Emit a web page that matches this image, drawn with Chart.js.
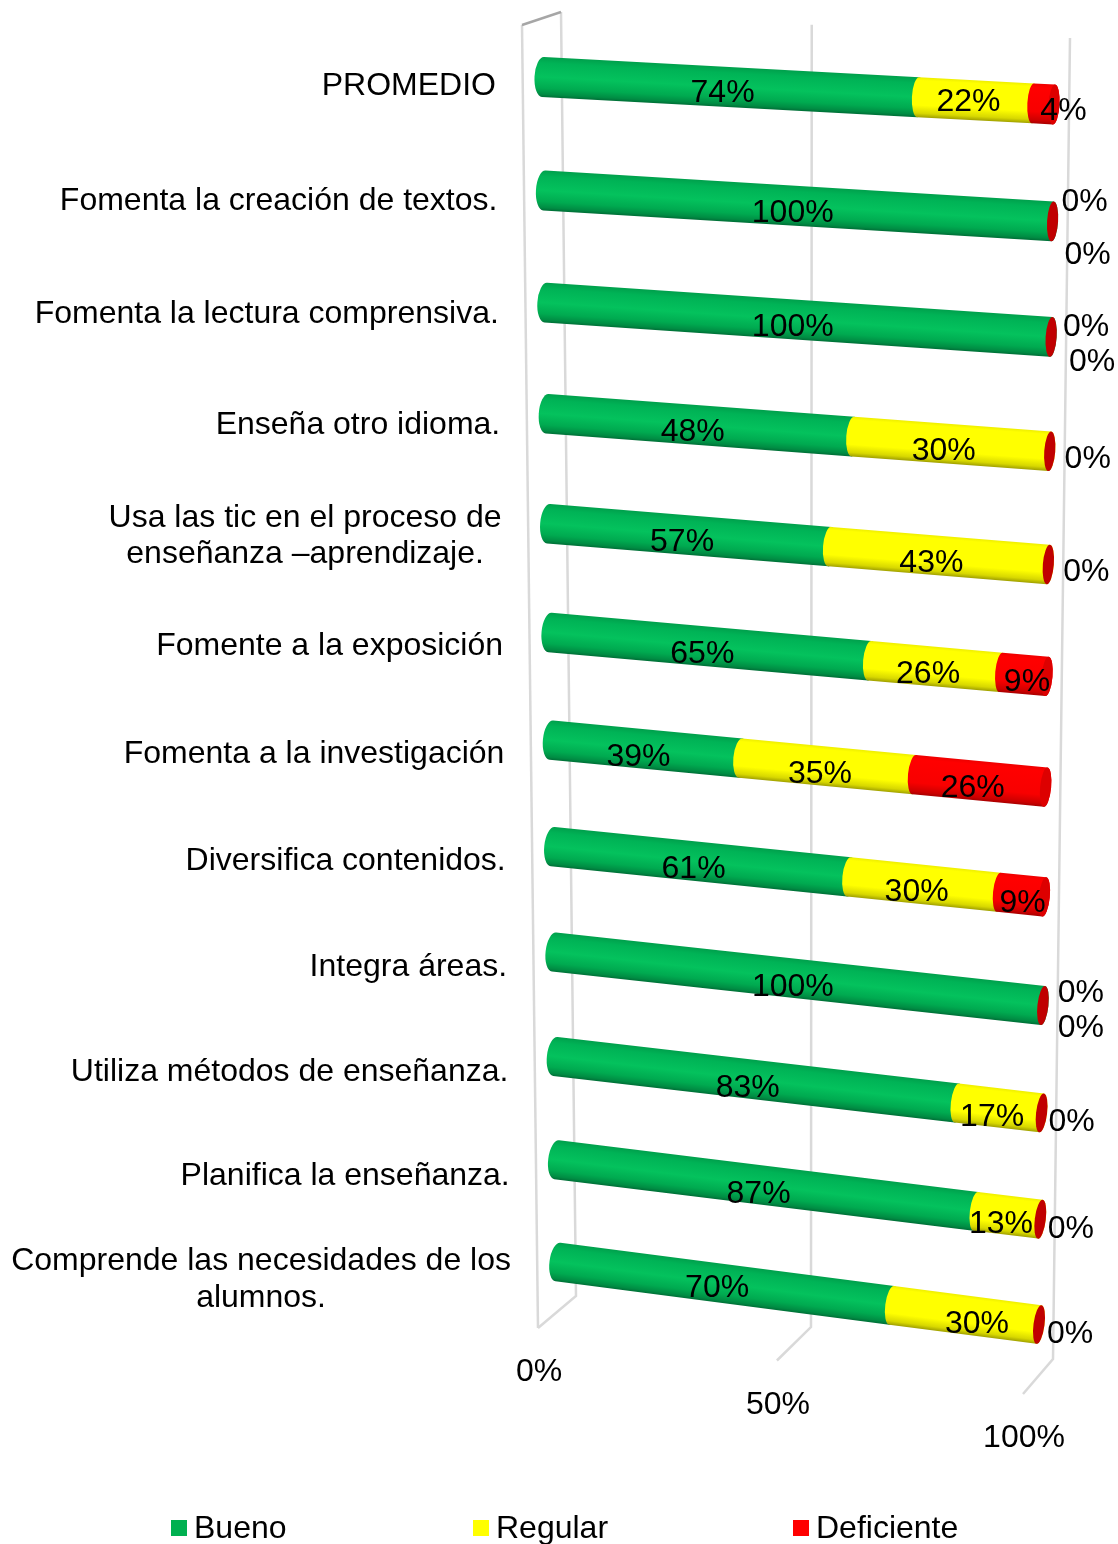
<!DOCTYPE html>
<html><head><meta charset="utf-8">
<style>html,body{margin:0;padding:0;background:#fff}canvas{display:block}</style>
<script src="https://cdn.jsdelivr.net/npm/chart.js@4"></script>
</head><body><canvas id="c" width="1118" height="1544"></canvas>
<script>
const categories=["PROMEDIO","Fomenta la creación de textos.","Fomenta la lectura comprensiva.","Enseña otro idioma.",["Usa las tic en el proceso de","enseñanza –aprendizaje."],"Fomente a la exposición","Fomenta a la investigación","Diversifica contenidos.","Integra áreas.","Utiliza métodos de enseñanza.","Planifica la enseñanza.",["Comprende las necesidades de los","alumnos."]];
const bueno=[74,100,100,48,57,65,39,61,100,83,87,70];
const regular=[22,0,0,30,43,26,35,30,0,17,13,30];
const deficiente=[4,0,0,0,0,9,26,9,0,0,0,0];
const seriesNames=["Bueno","Regular","Deficiente"];
const seriesColors=["#00b050","#ffff00","#ff0000"];
const axisTicks=[0,50,100];

// 100% stacking: the drawn length is the share of the row total
const rowTotals=bueno.map((v,i)=>v+regular[i]+deficiente[i]);
const share=a=>a.map((v,i)=>v/rowTotals[i]*100);

// ---- perspective of the 3-D view (style/geometry, not data) ----
const F={tl:[543,77],tr:[1054,104.5],bl:[558,1262],br:[1039,1324.5],kv:.0589,ku:.03,
  rTop:20,rBot:19.5,capL:8.5,capR:5.5,
  backTop:[[561,12],[1070,38]],backBot:[[576,1296],[1053,1359]],front:[[538,1328],[1023,1394]]};
const lerp=(a,b,t)=>a+(b-a)*t, lerp2=(p,q,t)=>[lerp(p[0],q[0],t),lerp(p[1],q[1],t)];
const tv=v=>v*(1+F.kv)/(1+F.kv*v), tu=u=>u/(1+F.ku*(1-u));
function P(u,v){const t=tv(v);return lerp2(lerp2(F.tl,F.bl,t),lerp2(F.tr,F.br,t),tu(u));}
const GRAD=[
 [[0,'#00a04c'],[.15,'#00b356'],[.5,'#04c25d'],[.78,'#00aa50'],[.93,'#008c43'],[1,'#006f37']],
 [[0,'#eeee00'],[.08,'#ffff00'],[.7,'#ffff00'],[.9,'#d8d800'],[1,'#a0a000']],
 [[0,'#ee0000'],[.1,'#ff0000'],[.7,'#f80000'],[.92,'#cc0000'],[1,'#a80000']]];
const CAP_FULL='#dd0000', CAP_EMPTY='#c00000';
function cyl(ctx,u0,u1,v,grad,capColor){
  const a=P(u0,v),b=P(u1,v),o=P(0,v),e=P(1,v),th=Math.atan2(e[1]-o[1],e[0]-o[0]);
  const L=Math.hypot(b[0]-a[0],b[1]-a[1]),r=lerp(F.rTop,F.rBot,tv(v));
  const a0=lerp(F.capL,F.capR,tu(u0)),a1=lerp(F.capL,F.capR,tu(u1));
  ctx.save();ctx.translate(a[0],a[1]);ctx.rotate(th);
  if(L>0.01){
    const g=ctx.createLinearGradient(0,-r,0,r);grad.forEach(s=>g.addColorStop(s[0],s[1]));
    ctx.fillStyle=g;ctx.beginPath();
    ctx.ellipse(0,0,a0,r,0,-Math.PI/2,Math.PI/2,true);
    ctx.lineTo(L,r);
    ctx.ellipse(L,0,a1,r,0,Math.PI/2,-Math.PI/2,true);
    ctx.closePath();ctx.fill();
  }
  if(capColor){ctx.fillStyle=capColor;ctx.beginPath();ctx.ellipse(L,0,a1,r,0,0,Math.PI*2);ctx.fill();}
  ctx.restore();
}
// label placement relative to the centre of the segment; key = series:row
const NUDGE_DEFAULT=[[-6,5],[-7,5],[-7,5]];
const labelNudge={'0:0':[-6,4],'1:0':[-7,-1],'2:0':[20,5],
 '0:1':[-2,5],'1:1':[32,-22],'2:1':[35,31],
 '0:2':[-2,5],'1:2':[35,-12],'2:2':[41,23],
 '2:3':[38,5],'2:4':[38,5],
 '2:5':[3,5],'0:6':[-7,6],
 '2:7':[1,6],
 '0:8':[-2,6],'1:8':[38,-15],'2:8':[38,20],
 '0:9':[-6,6],'1:9':[-7,7],'2:9':[30,7],
 '0:10':[-5,6],'1:10':[-7,6],'2:10':[30.5,7],
 '0:11':[-6,2],'1:11':[12,7],'2:11':[31,7.5]};
const FONT='32px "Liberation Sans", Arial, sans-serif';
const TEXT_DY=2.5;
const LEGEND={y:1527,box:16,boxGap:7,start:171,spacing:[0,302,622]};

const perspective={id:'perspective',
 beforeDraw(ch){const c=ch.ctx;c.save();c.fillStyle='#fff';c.fillRect(0,0,ch.width,ch.height);
   const xs=ch.scales.x;
   c.lineCap='butt';c.strokeStyle='#d9d9d9';c.lineWidth=2.5;
   xs.ticks.forEach(t=>{const u=(xs.getPixelForValue(t.value)-xs.left)/xs.width,k=tu(u);
     const a=lerp2(F.backTop[0],F.backTop[1],k),b=lerp2(F.backBot[0],F.backBot[1],k),f=lerp2(F.front[0],F.front[1],k);
     c.beginPath();c.moveTo(a[0],a[1]);c.lineTo(b[0],b[1]);c.lineTo(f[0],f[1]);c.stroke();});
   // front edge of the left wall and its grey top edge
   c.beginPath();c.moveTo(522,25);c.lineTo(F.front[0][0],F.front[0][1]);c.stroke();
   c.strokeStyle='#a6a6a6';c.beginPath();c.moveTo(522,25);c.lineTo(F.backTop[0][0],F.backTop[0][1]);c.stroke();
   c.restore();},
 beforeDatasetsDraw(ch){const c=ch.ctx,xs=ch.scales.x,n=categories.length;
   const m=ch.data.datasets.map((d,i)=>ch.getDatasetMeta(i));
   const y0=m[0].data[0].y,yN=m[0].data[n-1].y;
   const fx=p=>(p-xs.left)/xs.width;
   for(let r=0;r<n;r++){const v=(m[0].data[r].y-y0)/(yN-y0);
     m.forEach((mt,s)=>{const el=mt.data[r];if(Math.abs(el.x-el.base)>0.01)cyl(c,fx(el.base),fx(el.x),v,GRAD[s]);});
     cyl(c,1,1,v,null,deficiente[r]>0?CAP_FULL:CAP_EMPTY);
   }
   return false;},
 afterDraw(ch){const c=ch.ctx,xs=ch.scales.x,n=categories.length;
   c.save();c.font=FONT;c.fillStyle='#000';c.textBaseline='middle';c.textAlign='center';
   const m=ch.data.datasets.map((d,i)=>ch.getDatasetMeta(i));
   const y0=m[0].data[0].y,yN=m[0].data[n-1].y,fx=p=>(p-xs.left)/xs.width;
   const raws=[bueno,regular,deficiente];
   // axis ticks
   xs.ticks.forEach(t=>{const k=tu((xs.getPixelForValue(t.value)-xs.left)/xs.width),f=lerp2(F.front[0],F.front[1],k);
     c.fillText(t.value+'%',f[0]+1,f[1]+42+TEXT_DY);});
   // categories
   ch.data.labels.forEach((lab,r)=>{const v=(m[0].data[r].y-y0)/(yN-y0),p=P(0,v),t=tv(v);
     const right=p[0]-47,cy=p[1]+7+8*t+TEXT_DY,lines=Array.isArray(lab)?lab:[lab];
     const w=Math.max(...lines.map(l=>c.measureText(l).width));
     lines.forEach((l,i)=>c.fillText(l,right-w/2,cy+(i-(lines.length-1)/2)*36.5));});
   // value labels
   m.forEach((mt,s)=>mt.data.forEach((el,r)=>{const v=(el.y-y0)/(yN-y0),p=P((fx(el.x)+fx(el.base))/2,v);
     const d=labelNudge[s+':'+r]||NUDGE_DEFAULT[s];c.fillText(raws[s][r]+'%',p[0]+d[0],p[1]+d[1]+TEXT_DY);}));
   // legend
   c.textAlign='left';
   ch.data.datasets.forEach((d,i)=>{const x=LEGEND.start+LEGEND.spacing[i];
     c.fillStyle=d.backgroundColor;c.fillRect(x,LEGEND.y-LEGEND.box/2+1,LEGEND.box,LEGEND.box);
     c.fillStyle='#000';c.fillText(d.label,x+LEGEND.box+LEGEND.boxGap,LEGEND.y+TEXT_DY);});
   c.restore();}
};
new Chart(document.getElementById('c'),{type:'bar',
 data:{labels:categories,datasets:[
  {label:seriesNames[0],data:share(bueno),backgroundColor:seriesColors[0]},
  {label:seriesNames[1],data:share(regular),backgroundColor:seriesColors[1]},
  {label:seriesNames[2],data:share(deficiente),backgroundColor:seriesColors[2]}]},
 options:{indexAxis:'y',responsive:false,animation:false,
  events:[],
  scales:{
   x:{stacked:true,min:0,max:100,afterBuildTicks(a){a.ticks=axisTicks.map(value=>({value}));},ticks:{display:false},grid:{display:false},border:{display:false}},
   y:{stacked:true,ticks:{display:false},grid:{display:false},border:{display:false}}},
  plugins:{tooltip:{enabled:false},legend:{display:false}}
 },
 plugins:[perspective]});
</script></body></html>
